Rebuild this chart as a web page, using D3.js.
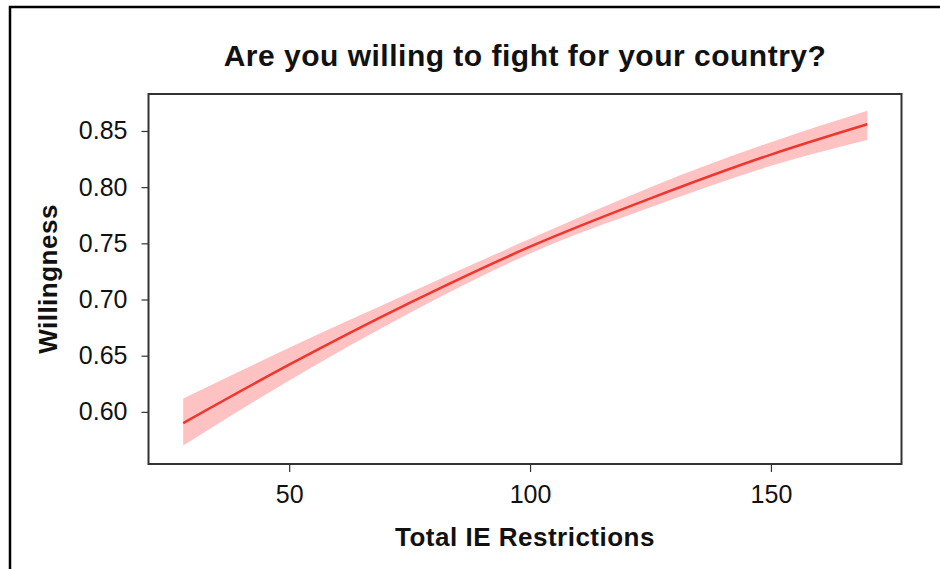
<!DOCTYPE html>
<html>
<head>
<meta charset="utf-8">
<script src="https://cdn.jsdelivr.net/npm/d3@7"></script>
<style>
  body { margin: 0; background: #fff; }
  svg text { font-family: "Liberation Sans", Arial, sans-serif; fill: #111; }
</style>
</head>
<body>
<div id="chart"></div>
<script>
// DATA
let restrictions = [28, 50, 75, 100, 125, 150, 170];
let fitValues   = [0.590, 0.642, 0.697, 0.747, 0.790, 0.829, 0.856];
let lowerValues = [0.570, 0.628, 0.688, 0.741, 0.782, 0.819, 0.842];
let upperValues = [0.612, 0.657, 0.706, 0.754, 0.800, 0.840, 0.868];
let yTicks = [0.60, 0.65, 0.70, 0.75, 0.80, 0.85];
let xTicks = [50, 100, 150];

let chartTitle = "Are you willing to fight for your country?",
    xTitle = "Total IE Restrictions",
    yTitle = "Willingness";

// PLOTTING VARIABLES
let width = 940,
    height = 569;

let margin = {top: 94, right: 38.5, bottom: 105, left: 148.5};

let rows = restrictions.map((x, i) => ({x: x, fit: fitValues[i], lo: lowerValues[i], hi: upperValues[i]}));

let svg = d3.select('#chart')
    .append('svg')
    .attr('width', width)
    .attr('height', height);

// outer frame (only top and left edges are visible in the crop)
svg.append('path')
    .attr('d', `M10,${height} L10,7 L${width},7`)
    .attr('fill', 'none')
    .attr('stroke', '#000')
    .attr('stroke-width', 2.5);

// Scales
let xScale = d3.scaleLinear()
    .domain([20.8, 177.1])
    .range([margin.left, width - margin.right]);

let yScale = d3.scaleLinear()
    .domain([0.5536, 0.8829])
    .range([height - margin.bottom, margin.top]);

// confidence band
let band = d3.area()
    .x(d => xScale(d.x))
    .y0(d => yScale(d.lo))
    .y1(d => yScale(d.hi))
    .curve(d3.curveMonotoneX);

svg.append('path')
    .datum(rows)
    .attr('d', band)
    .attr('fill', '#ffc2c2');

let line = d3.line()
    .x(d => xScale(d.x))
    .y(d => yScale(d.fit))
    .curve(d3.curveMonotoneX);

svg.append('path')
    .datum(rows)
    .attr('d', line)
    .attr('fill', 'none')
    .attr('stroke', '#f2352c')
    .attr('stroke-width', 2.5);

// plot box
svg.append('rect')
    .attr('x', margin.left)
    .attr('y', margin.top)
    .attr('width', width - margin.left - margin.right)
    .attr('height', height - margin.top - margin.bottom)
    .attr('fill', 'none')
    .attr('stroke', '#333')
    .attr('stroke-width', 2);

// axes
let xAxis = svg.append('g')
    .attr('transform', `translate(0,${height - margin.bottom})`)
    .call(d3.axisBottom(xScale).tickValues(xTicks).tickSize(8).tickPadding(13).tickFormat(d3.format('d')));

let yAxis = svg.append('g')
    .attr('transform', `translate(${margin.left},0)`)
    .call(d3.axisLeft(yScale).tickValues(yTicks).tickSize(7).tickPadding(14).tickFormat(d3.format('.2f')));

[xAxis, yAxis].forEach(a => {
    a.select('.domain').remove();
    a.selectAll('line').attr('stroke', '#333').attr('stroke-width', 1.2);
    a.selectAll('text')
        .attr('fill', '#111')
        .style('font-family', '"Liberation Sans", Arial, sans-serif')
        .style('font-size', '25px');
});

// titles
svg.append('text')
    .attr('x', (margin.left + width - margin.right) / 2)
    .attr('y', 66)
    .attr('text-anchor', 'middle')
    .style('font-size', '30px')
    .style('letter-spacing', '0.5px')
    .style('font-weight', 'bold')
    .text(chartTitle);

svg.append('text')
    .attr('x', (margin.left + width - margin.right) / 2)
    .attr('y', 546)
    .attr('text-anchor', 'middle')
    .style('font-size', '26px')
    .style('letter-spacing', '0.5px')
    .style('font-weight', 'bold')
    .text(xTitle);

svg.append('text')
    .attr('transform', `translate(57,${(margin.top + height - margin.bottom) / 2}) rotate(-90)`)
    .attr('text-anchor', 'middle')
    .style('font-size', '26px')
    .style('letter-spacing', '0.5px')
    .style('font-weight', 'bold')
    .text(yTitle);
</script>
</body>
</html>
